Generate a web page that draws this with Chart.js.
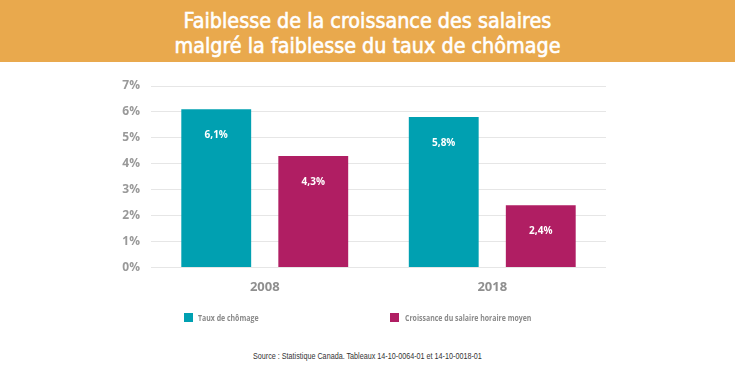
<!DOCTYPE html>
<html lang="fr">
<head>
<meta charset="utf-8">
<script src="https://cdn.jsdelivr.net/npm/chart.js@4/dist/chart.umd.min.js"></script>
<style>
  html, body { margin: 0; padding: 0; background: #ffffff; width: 735px; height: 384px; overflow: hidden; }
  #header { position: absolute; left: 0; top: 0; width: 735px; height: 62px; background: #E9A94D; }
  #title { position: absolute; left: 0; top: 8px; width: 735px; text-align: center; color: #ffffff;
           font-family: "Liberation Sans Narrow", "DejaVu Sans Condensed", sans-serif; font-weight: 400;
           -webkit-text-stroke: 0.6px #ffffff;
           font-size: 22px; line-height: 25px; transform: scaleX(0.97); transform-origin: 367px center; }
  #wrap { position: absolute; left: 0; top: 62px; width: 735px; height: 252px; }
  .leg { position: absolute; top: 312px; height: 11px; font-family: "Open Sans", sans-serif; font-weight: 700;
         font-size: 8px; color: #8a8a8a; line-height: 11px; white-space: nowrap; }
  .sw { position: absolute; top: 1px; width: 9px; height: 9px; }
  .lt { position: absolute; top: 0; display: inline-block; transform: scaleX(0.87); transform-origin: left center; }
  #source { position: absolute; left: 0; top: 351px; width: 735px; text-align: center;
            font-family: "Liberation Sans Narrow", sans-serif; font-size: 9px; color: #333333;
            transform: scaleX(0.8); transform-origin: 367px center; }
</style>
</head>
<body>
<div id="header"></div>
<div id="title">Faiblesse de la croissance des salaires<br>malgré la faiblesse du taux de chômage</div>
<div id="wrap"><canvas id="c"></canvas></div>
<div id="legend"></div>
<div id="source">Source : Statistique Canada. Tableaux 14-10-0064-01 et 14-10-0018-01</div>
<script>
const categories = ["2008", "2018"];
const seriesNames = ["Taux de chômage", "Croissance du salaire horaire moyen"];
const chomage = [6.1, 5.8];
const salaire = [4.3, 2.4];
const yTicks = [0, 1, 2, 3, 4, 5, 6, 7];
const colors = ["#00A0B1", "#B01E63"];

// HTML legend
const legendPos = [184, 390];
const legendEl = document.getElementById("legend");
seriesNames.forEach((name, i) => {
  const d = document.createElement("div");
  d.className = "leg";
  d.style.left = legendPos[i] + "px";
  d.innerHTML = '<span class="sw" style="left:0;background:' + colors[i] + '"></span><span class="lt" style="left:' + (i === 0 ? 14 : 15) + 'px">' + name + '</span>';
  legendEl.appendChild(d);
});

const fmt = v => v.toFixed(1).replace(".", ",") + "%";

const valueLabels = {
  id: "valueLabels",
  afterDatasetsDraw(chart) {
    const ctx = chart.ctx;
    ctx.save();
    ctx.fillStyle = "#ffffff";
    ctx.font = "bold 10px 'Open Sans', sans-serif";
    ctx.textAlign = "center";
    ctx.textBaseline = "middle";
    chart.data.datasets.forEach((ds, di) => {
      chart.getDatasetMeta(di).data.forEach((bar, i) => {
        ctx.fillText(fmt(ds.data[i]), bar.x, bar.y + 26);
      });
    });
    ctx.restore();
  }
};

new Chart(document.getElementById("c"), {
  type: "bar",
  data: {
    labels: categories,
    datasets: [
      { label: seriesNames[0], data: chomage, backgroundColor: colors[0] },
      { label: seriesNames[1], data: salaire, backgroundColor: colors[1] }
    ]
  },
  options: {
    responsive: true,
    maintainAspectRatio: false,
    animation: false,
    layout: { padding: { top: 24, right: 129, bottom: 7, left: 0 } },
    datasets: { bar: { categoryPercentage: 0.853, barPercentage: 0.72 } },
    plugins: { legend: { display: false }, tooltip: { enabled: false } },
    scales: {
      x: {
        grid: { display: false, drawTicks: false },
        border: { display: false },
        ticks: { color: "#8f8f8f", padding: 12, font: { family: "'Open Sans', sans-serif", size: 13, weight: "bold" } }
      },
      y: {
        min: 0, max: 7,
        afterBuildTicks: s => { s.ticks = yTicks.map(v => ({ value: v })); },
        afterFit: s => { s.width = 151; },
        grid: { color: "#e6e6e6", drawTicks: false },
        border: { display: false },
        ticks: { color: "#999999", padding: 11, callback: v => v + "%",
                 font: { family: "'Open Sans', sans-serif", size: 12, weight: "bold" } }
      }
    }
  },
  plugins: [valueLabels]
});
</script>
</body>
</html>
